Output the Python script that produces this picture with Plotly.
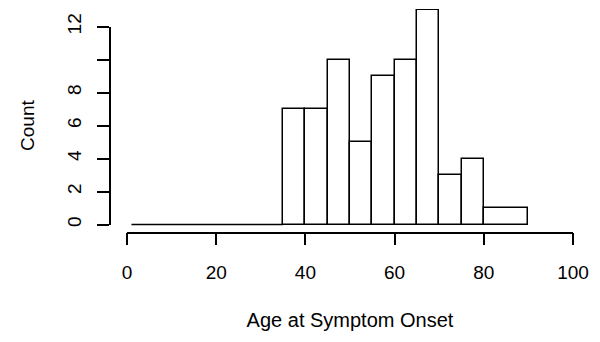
import numpy as np
import plotly.graph_objects as go

# Data
bin_edges = [1, 5, 10, 15, 20, 25, 30, 35, 40, 45, 50, 55, 60, 65, 70, 75, 80, 90]
counts = [0, 0, 0, 0, 0, 0, 0, 7, 7, 10, 5, 9, 10, 13, 3, 4, 1]
x_ticks = [0, 20, 40, 60, 80, 100]
y_ticks = [0, 2, 4, 6, 8, 10, 12]
y_ticktext = ["0", "2", "4", "6", "8", "", "12"]
x_title = "Age at Symptom Onset"
y_title = "Count"

OFF = 8.0  # default page body margin
W, H = 600 - OFF, 342 - OFF
edges = np.array(bin_edges, dtype=float)
cnt = np.array(counts, dtype=float)
centers = (edges[:-1] + edges[1:]) / 2
widths = edges[1:] - edges[:-1]

# pixel geometry (window coordinates)
px_x0, px_x100 = 127.0, 573.0
px_y0, px_y12 = 224.5, 26.7
scale_y = (px_y0 - px_y12) / 12.0

def fx(p):
    return (p - OFF) / W

def fy(p):
    return 1 - (p - OFF) / H

font = "Liberation Sans, Arial, sans-serif"
LW = 1.5

fig = go.Figure()
nz = cnt > 0
fig.add_trace(go.Bar(
    x=centers[nz], y=cnt[nz], width=widths[nz], base=0,
    marker=dict(color="white", line=dict(color="black", width=LW)),
    hoverinfo="skip", showlegend=False))
# zero-count bins drawn as a flat line (as in R)
zero_idx = np.where(~nz)[0]
zx = [edges[zero_idx[0]], edges[zero_idx[-1] + 1]]
fig.add_trace(go.Scatter(x=zx, y=[0, 0], mode="lines",
                         line=dict(color="black", width=LW),
                         hoverinfo="skip", showlegend=False))
# dummy trace for visible axes
fig.add_trace(go.Scatter(x=[0], y=[0], xaxis="x2", yaxis="y2", mode="markers",
                         marker=dict(opacity=0), hoverinfo="skip", showlegend=False))

bot_px, top_px = 229.0, 9.0
fig.update_layout(
    width=W, height=H,
    margin=dict(l=0, r=0, t=0, b=0),
    paper_bgcolor="white", plot_bgcolor="rgba(0,0,0,0)",
    font=dict(family=font, size=19, color="black"),
    bargap=0,
    xaxis=dict(domain=[fx(px_x0), fx(px_x100)], range=[0, 100], visible=False, fixedrange=True),
    yaxis=dict(domain=[fy(bot_px), fy(top_px)],
               range=[-(bot_px - px_y0) / scale_y, (px_y0 - top_px) / scale_y],
               visible=False, fixedrange=True),
    xaxis2=dict(domain=[fx(px_x0), fx(px_x100)], range=[0, 100], anchor="free",
                position=fy(232.5), showline=True, linecolor="black", linewidth=LW,
                ticks="outside", ticklen=12, tickwidth=LW, tickcolor="black",
                tickvals=x_ticks, showgrid=False, zeroline=False,
                ticklabelstandoff=11,
                title=dict(text=x_title, standoff=30, font=dict(size=20)),
                automargin=False, fixedrange=True),
    yaxis2=dict(domain=[fy(px_y0), fy(px_y12)], range=[0, 12], anchor="free",
                position=fx(109.5), showline=True, linecolor="black", linewidth=LW,
                ticks="outside", ticklen=12, tickwidth=LW, tickcolor="black",
                tickvals=y_ticks, ticktext=y_ticktext, tickangle=-90,
                showgrid=False, zeroline=False, ticklabelstandoff=8,
                title=dict(text=y_title, standoff=23, font=dict(size=19)),
                automargin=False, fixedrange=True),
)
fig.write_html("out.html")
